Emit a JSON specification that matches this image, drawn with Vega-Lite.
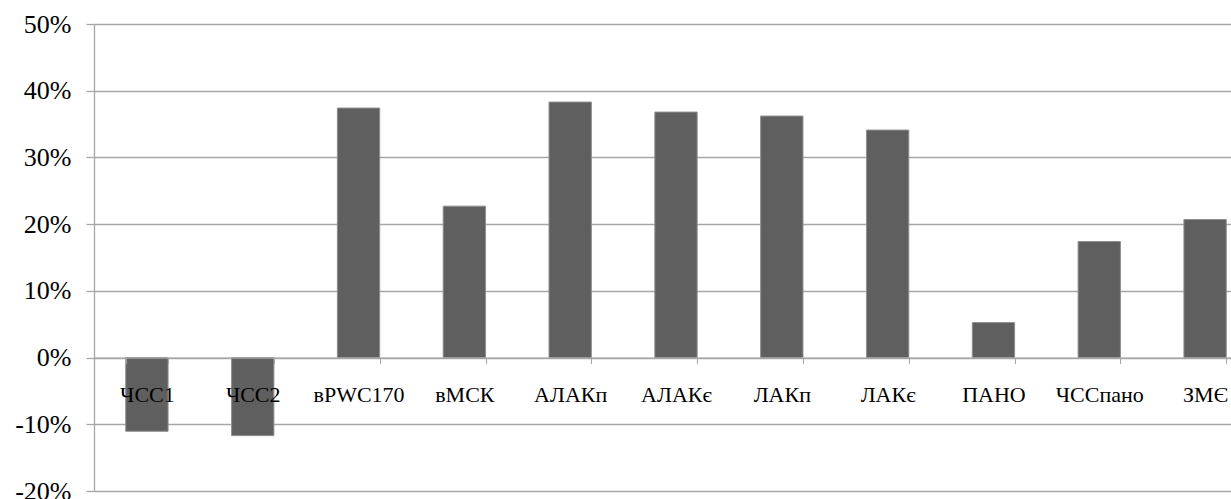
{
  "$schema": "https://vega.github.io/schema/vega-lite/v6.json",
  "autosize": "none",
  "padding": {"left": 94, "top": 24, "right": 0, "bottom": 8},
  "width": 1137,
  "height": 467,
  "background": "white",
  "config": {
    "view": {"stroke": null},
    "font": "Liberation Serif, Times New Roman, DejaVu Serif, serif"
  },
  "data": {
    "values": [
      {"name": "ЧСС1", "value": -0.1105},
      {"name": "ЧСС2", "value": -0.117},
      {"name": "вPWC170", "value": 0.374},
      {"name": "вМСК", "value": 0.227},
      {"name": "АЛАКп", "value": 0.383},
      {"name": "АЛАКє", "value": 0.368},
      {"name": "ЛАКп", "value": 0.362},
      {"name": "ЛАКє", "value": 0.341},
      {"name": "ПАНО", "value": 0.0525},
      {"name": "ЧССпано", "value": 0.174},
      {"name": "ЗМЄ", "value": 0.207}
    ]
  },
  "mark": {"type": "bar", "fill": "#5f5f5f", "stroke": "#8f8f8f", "strokeWidth": 1},
  "encoding": {
    "x": {
      "field": "name",
      "type": "nominal",
      "sort": null,
      "scale": {"range": [0, 1164], "paddingInner": 0.6, "paddingOuter": 0.3},
      "axis": {
        "title": null,
        "labelAngle": 0,
        "offset": -133.43,
        "zindex": 1,
        "domainColor": "#a6a6a6",
        "domainWidth": 1.3,
        "tickColor": "#a6a6a6",
        "tickSize": 6,
        "tickBand": "extent",
        "labelPadding": 21,
        "labelFont": "Liberation Serif, Times New Roman, DejaVu Serif, serif",
        "labelFontSize": 22,
        "labelColor": "#000000",
        "grid": false
      }
    },
    "y": {
      "field": "value",
      "type": "quantitative",
      "scale": {"domain": [-0.2, 0.5], "nice": false, "zero": false},
      "axis": {
        "title": null,
        "values": [-0.2, -0.1, 0, 0.1, 0.2, 0.3, 0.4, 0.5],
        "format": ".0%",
        "labelExpr": "replace(datum.label, '\u2212', '-')",
        "domainColor": "#a6a6a6",
        "domainWidth": 1.3,
        "tickColor": "#a6a6a6",
        "tickSize": 8,
        "tickWidth": 1.3,
        "labelPadding": 15,
        "labelFont": "Liberation Serif, Times New Roman, DejaVu Serif, serif",
        "labelFontSize": 26,
        "labelColor": "#000000",
        "grid": true,
        "gridColor": "#a6a6a6",
        "gridWidth": 1.3
      }
    }
  }
}
